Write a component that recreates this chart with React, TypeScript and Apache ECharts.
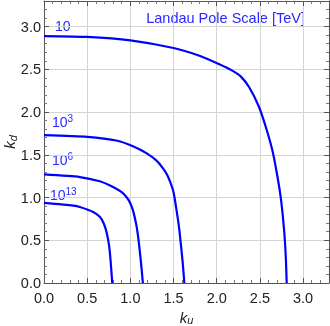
import React, { useEffect, useRef } from "react";
import * as echarts from "echarts";

const curve10: [number, number][] = [
  [0, 2.89], [0.5, 2.88], [1.0, 2.84], [1.5, 2.75], [1.8, 2.66], [2.03, 2.56],
  [2.18, 2.485], [2.28, 2.415], [2.376, 2.29], [2.49, 2.06], [2.57, 1.82], [2.64, 1.57],
  [2.69, 1.32], [2.74, 1.01], [2.78, 0.62], [2.80, 0.3], [2.81, 0],
];
const curve1e3: [number, number][] = [
  [0, 1.73], [0.5, 1.71], [0.85, 1.665], [1.03, 1.6], [1.185, 1.52], [1.3, 1.435],
  [1.376, 1.345], [1.434, 1.25], [1.49, 1.1], [1.51, 1.01], [1.535, 0.85],
  [1.56, 0.68], [1.58, 0.5], [1.605, 0.25], [1.625, 0],
];
const curve1e6: [number, number][] = [
  [0, 1.27], [0.415, 1.24], [0.646, 1.19], [0.8, 1.124], [0.896, 1.066], [0.954, 1.007],
  [0.992, 0.949], [1.03, 0.85], [1.069, 0.68], [1.095, 0.5], [1.12, 0.27], [1.145, 0],
];
const curve1e13: [number, number][] = [
  [0, 0.937], [0.34, 0.905], [0.415, 0.89], [0.569, 0.832], [0.646, 0.774], [0.692, 0.697],
  [0.723, 0.599], [0.753, 0.443], [0.772, 0.25], [0.79, 0],
];
const curveLabels = ["10", "10^3", "10^6", "10^13"];
const titleText = "Landau Pole Scale [TeV]";

const BLUE = "#0000ff";
const TEXT_BLUE = "#2a2aff";
const FONT = "Liberation Sans, Arial, sans-serif";

function richLabel(s: string) {
  const [b, e] = s.split("^");
  return e ? `{b|${b}}{e|${e}}` : `{b|${b}}`;
}

export default function App() {
  const ref = useRef<HTMLDivElement>(null);
  useEffect(() => {
    const chart = echarts.init(ref.current!, null, { renderer: "svg" });
    const labelPos: [number, number][] = [[55, 19], [52, 113], [52, 151], [50, 186]];
    const axisCommon = {
      type: "value" as const,
      min: 0,
      max: 3.3,
      interval: 0.5,
      axisLine: { show: true, onZero: false, lineStyle: { color: "#555", width: 1 } },
      axisTick: { show: true, inside: true, length: 5, lineStyle: { color: "#555" } },
      minorTick: { show: true, splitNumber: 5, length: 3, lineStyle: { color: "#777" } },
      splitLine: { show: true, lineStyle: { color: "#d4d4d4", width: 1 } },
      axisLabel: {
        color: "#222",
        fontSize: 14.5,
        fontFamily: FONT,
        formatter: (v: number) => (v > 3.05 ? "" : v.toFixed(1)),
      },
    };
    const mirror = {
      ...axisCommon,
      axisLabel: { show: false },
      splitLine: { show: false },
    };
    const nameRich = {
      k: { fontSize: 15, fontStyle: "italic", fontFamily: FONT, color: "#222" },
      s: { fontSize: 11, fontStyle: "italic", fontFamily: FONT, color: "#222", verticalAlign: "bottom", padding: [6, 0, 0, 0] },
    };
    chart.setOption({
      animation: false,
      grid: { left: 44, right: 1, top: 1, bottom: 43, containLabel: false, outerBoundsMode: "none" },
      xAxis: [
        {
          ...axisCommon,
          position: "bottom",
          axisLabel: { ...axisCommon.axisLabel, margin: 7 },
          name: "{k|k}{s|u}",
          nameLocation: "middle",
          nameGap: 22,
          nameTextStyle: { rich: nameRich },
        },
        { ...mirror, position: "top" },
      ],
      yAxis: [
        {
          ...axisCommon,
          position: "left",
          axisLabel: { ...axisCommon.axisLabel, margin: 3 },
          name: "{k|k}{s|d}",
          nameLocation: "middle",
          nameGap: 26,
          nameRotate: 90,
          nameMoveOverlap: false,
          nameTextStyle: { rich: nameRich },
        },
        { ...mirror, position: "right" },
      ],
      series: [curve10, curve1e3, curve1e6, curve1e13].map((d) => ({
        type: "line",
        data: d,
        xAxisIndex: 0,
        yAxisIndex: 0,
        showSymbol: false,
        smooth: 0.2,
        lineStyle: { color: BLUE, width: 2.2 },
      })),
      graphic: [
        {
          type: "text",
          right: 25,
          top: 10,
          style: { text: titleText, fill: TEXT_BLUE, fontSize: 14.5, fontFamily: FONT },
        },
        ...curveLabels.map((t, i) => ({
          type: "text",
          left: labelPos[i][0],
          top: labelPos[i][1],
          style: {
            text: richLabel(t),
            rich: {
              b: { fontSize: 14, fontFamily: FONT, fill: TEXT_BLUE, verticalAlign: "bottom" },
              e: { fontSize: 10, fontFamily: FONT, fill: TEXT_BLUE, verticalAlign: "top", padding: [0, 0, 6, 0] },
            },
          },
        })),
      ],
    });
    return () => chart.dispose();
  }, []);
  return <div ref={ref} style={{ position: "fixed", left: 0, top: 0, width: 330, height: 326 }} />;
}
